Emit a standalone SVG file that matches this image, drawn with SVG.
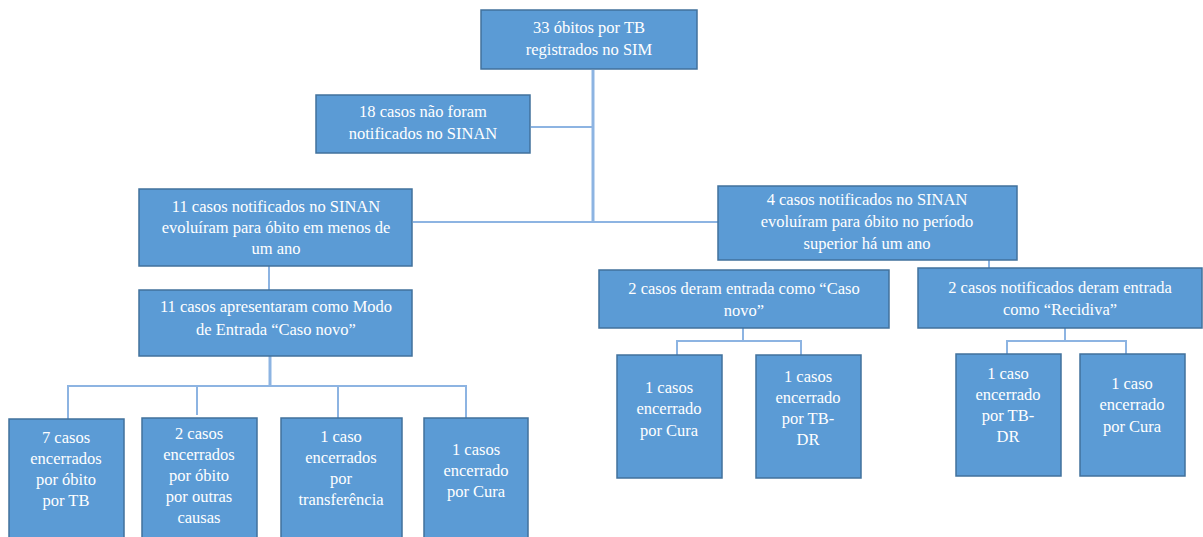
<svg xmlns="http://www.w3.org/2000/svg" width="1203" height="537" viewBox="0 0 1203 537">
<style>
.box{fill:#5b9bd5;stroke:#41719c;stroke-width:1.5}
.t{font-family:"Liberation Serif","Times New Roman",serif;font-size:16.5px;fill:#ffffff;text-anchor:middle}
.c{fill:none;stroke:#8db4e2;stroke-width:2}
</style>
<rect width="1203" height="537" fill="#ffffff"/>
<g id="connectors">
<path class="c" d="M593,70 V222" style="stroke-width:3"/>
<path class="c" d="M531,127 H593"/>
<path class="c" d="M413,222 H718"/>
<path class="c" d="M989,260 V268"/>
<path class="c" d="M269,266 V290"/>
<path class="c" d="M270,356 V386" style="stroke-width:3"/>
<path class="c" d="M68,419 V386 H466 V418"/>
<path class="c" d="M197,386 V415"/>
<path class="c" d="M338,386 V418"/>
<path class="c" d="M743,328 V341"/>
<path class="c" d="M677,355 V341 H801 V355"/>
<path class="c" d="M1065,328 V341"/>
<path class="c" d="M1007,354 V341 H1126 V354"/>
</g>
<g id="n1"><rect class="box" x="481" y="10" width="216" height="59"/>
<text class="t" x="589" y="33">33 óbitos por TB</text><text class="t" x="589" y="55">registrados no SIM</text></g>
<g id="n2"><rect class="box" x="316" y="95" width="214" height="58"/>
<text class="t" x="423" y="117">18 casos não foram</text><text class="t" x="423" y="139">notificados no SINAN</text></g>
<g id="n3"><rect class="box" x="139" y="189" width="273" height="77"/>
<text class="t" x="276" y="212">11 casos notificados no SINAN</text><text class="t" x="276" y="233">evoluíram para óbito em menos de</text><text class="t" x="276" y="254">um ano</text></g>
<g id="n4"><rect class="box" x="718" y="186" width="299" height="74"/>
<text class="t" x="867" y="205">4 casos notificados no SINAN</text><text class="t" x="867" y="227">evoluíram para óbito no período</text><text class="t" x="867" y="249">superior há um ano</text></g>
<g id="n5"><rect class="box" x="139" y="290" width="273" height="66"/>
<text class="t" x="276" y="312">11 casos apresentaram como Modo</text><text class="t" x="276" y="335">de Entrada “Caso novo”</text></g>
<g id="n6"><rect class="box" x="599" y="270" width="290" height="58"/>
<text class="t" x="744" y="294">2 casos deram entrada como “Caso</text><text class="t" x="744" y="316">novo”</text></g>
<g id="n7"><rect class="box" x="918" y="268" width="284" height="60"/>
<text class="t" x="1060" y="293">2 casos notificados deram entrada</text><text class="t" x="1060" y="315">como “Recidiva”</text></g>
<g id="n8"><rect class="box" x="9" y="419" width="115" height="125"/>
<text class="t" x="66" y="443">7 casos</text><text class="t" x="66" y="464">encerrados</text><text class="t" x="66" y="485">por óbito</text><text class="t" x="66" y="506">por TB</text></g>
<g id="n9"><rect class="box" x="142" y="418" width="115" height="126"/>
<text class="t" x="199" y="439">2 casos</text><text class="t" x="199" y="460">encerrados</text><text class="t" x="199" y="481">por óbito</text><text class="t" x="199" y="502">por outras</text><text class="t" x="199" y="523">causas</text></g>
<g id="n10"><rect class="box" x="281" y="418" width="121" height="126"/>
<text class="t" x="341" y="442">1 caso</text><text class="t" x="341" y="463">encerrados</text><text class="t" x="341" y="484">por</text><text class="t" x="341" y="505">transferência</text></g>
<g id="n11"><rect class="box" x="424" y="418" width="104" height="126"/>
<text class="t" x="476" y="455">1 casos</text><text class="t" x="476" y="476">encerrado</text><text class="t" x="476" y="497">por Cura</text></g>
<g id="n12"><rect class="box" x="617" y="355" width="105" height="123"/>
<text class="t" x="669" y="393">1 casos</text><text class="t" x="669" y="414">encerrado</text><text class="t" x="669" y="436">por Cura</text></g>
<g id="n13"><rect class="box" x="756" y="355" width="105" height="123"/>
<text class="t" x="808" y="382">1 casos</text><text class="t" x="808" y="403">encerrado</text><text class="t" x="808" y="424">por TB-</text><text class="t" x="808" y="445">DR</text></g>
<g id="n14"><rect class="box" x="956" y="354" width="105" height="122"/>
<text class="t" x="1008" y="379">1 caso</text><text class="t" x="1008" y="400">encerrado</text><text class="t" x="1008" y="421">por TB-</text><text class="t" x="1008" y="442">DR</text></g>
<g id="n15"><rect class="box" x="1080" y="354" width="105" height="122"/>
<text class="t" x="1132" y="389">1 caso</text><text class="t" x="1132" y="410">encerrado</text><text class="t" x="1132" y="432">por Cura</text></g>
</svg>
